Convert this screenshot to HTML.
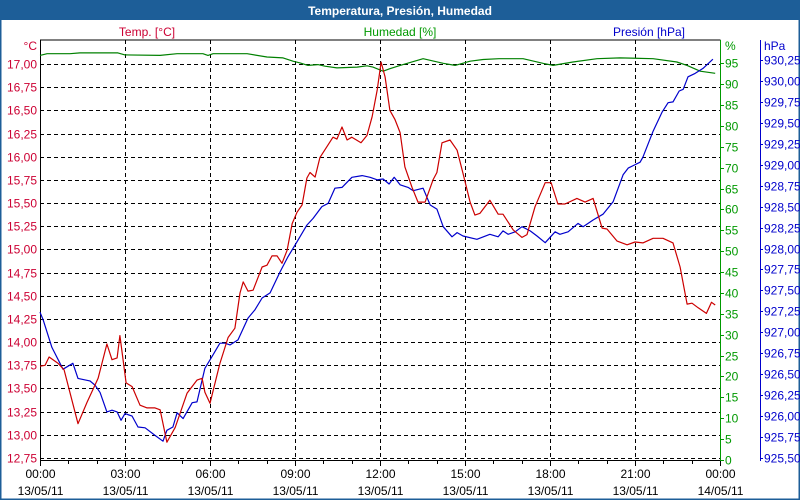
<!DOCTYPE html>
<html><head><meta charset="utf-8"><style>
html,body{margin:0;padding:0;background:#fff}
svg{display:block;font-family:"Liberation Sans","DejaVu Sans",sans-serif}
</style></head><body>
<svg id="chart" width="800" height="500" viewBox="0 0 800 500">
<rect x="0" y="0" width="800" height="500" fill="#fff"/>
<rect x="0" y="0" width="800" height="20" fill="#1d5e98"/>
<text x="400" y="15" text-anchor="middle" font-size="12" font-weight="bold" fill="#fff">Temperatura, Presión, Humedad</text>
<rect x="0.5" y="0.5" width="799" height="499" fill="none" stroke="#1d5e98" stroke-width="2"/>
<text x="147" y="36" text-anchor="middle" font-size="12" fill="#cc0033">Temp. [°C]</text>
<text x="400" y="36" text-anchor="middle" font-size="12" fill="#009900">Humedad [%]</text>
<text x="685" y="36" text-anchor="end" font-size="12" fill="#0000cc">Presión [hPa]</text>
<text x="37" y="50" text-anchor="end" font-size="12" fill="#cc0033">°C</text>
<text x="725" y="50" font-size="12" fill="#009900">%</text>
<text x="764" y="50" font-size="12" fill="#0000cc">hPa</text>
<g id="grid"></g>
<g id="axes"></g>
<g id="series"></g>
</svg>
<script>
const hours=[0,3,6,9,12,15,18,21,24];
const timeLabels=["00:00","03:00","06:00","09:00","12:00","15:00","18:00","21:00","00:00"];
const dateLabels=["13/05/11","13/05/11","13/05/11","13/05/11","13/05/11","13/05/11","13/05/11","13/05/11","14/05/11"];
const tempTicks=[12.75,13,13.25,13.5,13.75,14,14.25,14.5,14.75,15,15.25,15.5,15.75,16,16.25,16.5,16.75,17];
const humTicks=[0,5,10,15,20,25,30,35,40,45,50,55,60,65,70,75,80,85,90,95];
const presTicks=[925.5,925.75,926,926.25,926.5,926.75,927,927.25,927.5,927.75,928,928.25,928.5,928.75,929,929.25,929.5,929.75,930,930.25];
const tempT=[0,0.18,0.32,0.64,0.85,1.34,1.66,2.05,2.36,2.54,2.72,2.82,3.04,3.25,3.53,3.78,4.06,4.24,4.48,4.77,5.19,5.54,5.72,5.82,6.0,6.35,6.64,6.88,7.06,7.17,7.34,7.52,7.84,8.01,8.19,8.37,8.54,8.72,8.9,9.07,9.25,9.42,9.53,9.71,9.88,10.34,10.48,10.66,10.84,11.01,11.33,11.54,11.72,11.9,12.04,12.18,12.35,12.53,12.71,12.88,13.13,13.34,13.59,13.87,14.01,14.19,14.47,14.72,14.93,15.18,15.35,15.53,15.88,16.17,16.34,16.7,17.01,17.19,17.47,17.83,18.04,18.28,18.53,18.95,19.24,19.52,19.84,20.01,20.37,20.72,21.0,21.28,21.64,21.99,22.34,22.59,22.84,23.01,23.23,23.52,23.7,23.83];
const tempV=[13.74,13.75,13.84,13.77,13.70,13.12,13.35,13.61,13.98,13.81,13.83,14.07,13.56,13.52,13.32,13.29,13.29,13.27,12.92,13.08,13.45,13.59,13.61,13.46,13.34,13.77,14.05,14.15,14.53,14.65,14.55,14.56,14.81,14.83,14.93,14.93,14.85,14.99,15.28,15.40,15.48,15.77,15.83,15.78,15.99,16.21,16.19,16.32,16.18,16.21,16.15,16.23,16.43,16.72,17.02,16.86,16.50,16.40,16.26,15.89,15.67,15.51,15.51,15.75,15.83,16.15,16.18,16.07,15.82,15.51,15.37,15.39,15.53,15.38,15.38,15.21,15.13,15.16,15.46,15.72,15.72,15.49,15.49,15.55,15.51,15.55,15.23,15.22,15.09,15.05,15.08,15.07,15.12,15.12,15.07,14.81,14.41,14.42,14.37,14.31,14.43,14.40];
const presT=[0,0.11,0.42,0.81,1.16,1.34,1.76,1.94,2.12,2.36,2.54,2.72,2.86,3.0,3.25,3.46,3.71,4.06,4.34,4.48,4.69,4.84,5.05,5.37,5.54,5.82,6.07,6.35,6.53,6.71,6.99,7.34,7.59,7.84,8.12,8.47,8.75,9.07,9.42,9.64,9.95,10.17,10.41,10.66,11.01,11.37,11.65,11.9,12.11,12.32,12.5,12.71,12.99,13.17,13.52,13.77,14.01,14.23,14.54,14.72,14.93,15.42,15.88,16.17,16.34,16.52,16.77,17.01,17.3,17.54,17.83,18.18,18.35,18.64,18.99,19.17,19.52,19.87,20.23,20.58,20.76,21.18,21.28,21.64,21.96,22.17,22.34,22.56,22.7,22.87,23.12,23.4,23.75];
const presV=[927.24,927.15,926.82,926.56,926.63,926.45,926.42,926.37,926.28,926.05,926.07,926.05,925.95,926.03,926.00,925.87,925.86,925.77,925.70,925.83,925.87,926.04,925.97,926.16,926.17,926.57,926.71,926.87,926.87,926.85,926.91,927.17,927.27,927.41,927.47,927.72,927.90,928.08,928.28,928.36,928.50,928.54,928.72,928.73,928.85,928.87,928.85,928.82,928.83,928.77,928.85,928.76,928.73,928.69,928.72,928.52,928.47,928.26,928.14,928.19,928.15,928.11,928.17,928.14,928.21,928.17,928.20,928.26,928.21,928.15,928.07,928.20,928.17,928.20,928.30,928.26,928.34,928.41,928.56,928.88,928.96,929.03,929.09,929.40,929.63,929.74,929.75,929.88,929.90,930.05,930.09,930.15,930.26];
const humT=[0,0.25,1.06,1.41,2.75,3.0,4.24,4.84,5.75,5.93,6.11,7.31,8.01,8.58,8.93,9.18,9.46,9.81,10.06,10.48,11.19,11.54,11.75,12.11,12.35,12.71,13.52,14.23,14.65,15.18,15.64,16.2,17.05,17.75,18.11,18.81,19.66,20.47,21.64,22.48,22.84,23.3,23.83];
const humV=[96.9,97.3,97.3,97.5,97.5,97.0,96.9,97.3,97.3,96.9,97.3,97.3,96.5,96.3,95.5,95.1,94.5,94.7,94.3,93.9,94.1,94.4,94.1,93.1,93.7,94.5,96.1,95.0,94.5,95.5,95.9,96.1,96.1,95.0,94.5,95.3,96.1,96.3,96.1,95.3,94.5,93.1,92.6];

const L=40,R=720,T=40,B=460;
const xS=h=>L+h*(R-L)/24;
const yT=v=>64+(17-v)*(458-64)/4.25;
const yH=v=>460-v*(460-63.3)/95;
const yP=v=>458-(v-925.5)*(458-60)/4.75;
const NS="http://www.w3.org/2000/svg";
function mk(tag,attrs,parent,txt){const e=document.createElementNS(NS,tag);for(const k in attrs)e.setAttribute(k,attrs[k]);if(txt!==undefined)e.textContent=txt;parent.appendChild(e);return e;}
const grid=document.getElementById('grid'),axes=document.getElementById('axes'),series=document.getElementById('series');
tempTicks.forEach(v=>{const y=Math.round(yT(v))+0.5;
 const g=mk('line',{x1:L,x2:R,y1:y,y2:y,stroke:'#000','stroke-dasharray':'4,3'},grid);
 
 const t=mk('text',{x:37,y:y+4,'text-anchor':'end','font-size':12,fill:'#cc0033'},axes,v.toFixed(2).replace('.',','));
 });
hours.forEach((h,i)=>{const x=Math.round(xS(h))+0.5;
 if(i>0&&i<hours.length-1){const g=mk('line',{x1:x,x2:x,y1:T,y2:B,stroke:'#000','stroke-dasharray':'4,3'},grid);
 }
 const t1=mk('text',{x:x,y:478,'text-anchor':'middle','font-size':12,fill:'#000'},axes,timeLabels[i]);
 
 const t2=mk('text',{x:x,y:495,'text-anchor':'middle','font-size':12,fill:'#000'},axes,dateLabels[i]);
 });
for(let h=0;h<=24;h++){const x=Math.round(xS(h))+0.5;const tk=mk('line',{x1:x,x2:x,y1:B,y2:h%3===0?B+6:B+4,stroke:'#000'},axes);
 }
humTicks.forEach(v=>{const y=Math.round(yH(v))+0.5;
 const tk=mk('line',{x1:R,x2:R+4,y1:y,y2:y,stroke:'#009900'},axes);
 const t=mk('text',{x:725,y:y+4,'font-size':12,fill:'#009900'},axes,String(v));
 });
presTicks.forEach(v=>{const y=Math.round(yP(v))+0.5;
 const tk=mk('line',{x1:760,x2:763,y1:y,y2:y,stroke:'#0000cc'},axes);
 const t=mk('text',{x:764,y:y+4,'font-size':12,fill:'#0000cc'},axes,v.toFixed(2).replace('.',','));
 });
const f1=mk('polyline',{points:`${R+.5},${T} ${L+.5},${T} ${L+.5},${B+.5} ${R+.5},${B+.5}`,fill:'none',stroke:'#000'},axes);

const f2=mk('line',{x1:R+.5,x2:R+.5,y1:T,y2:B+1,stroke:'#009900'},axes);

const f3=mk('line',{x1:760.5,x2:760.5,y1:T,y2:B+1,stroke:'#0000cc'},axes);

function line(ts,vs,ys,color,name){const pts=ts.map((t,i)=>xS(t).toFixed(1)+','+ys(vs[i]).toFixed(1)).join(' ');
 const p=mk('polyline',{points:pts,fill:'none',stroke:color,'stroke-width':1.2,'stroke-linejoin':'round'},series);
 }
line(humT,humV,yH,'#008000','humidity-line');
line(presT,presV,yP,'#0000cc','pressure-line');
line(tempT,tempV,yT,'#cc0000','temperature-line');
</script>
</body></html>
